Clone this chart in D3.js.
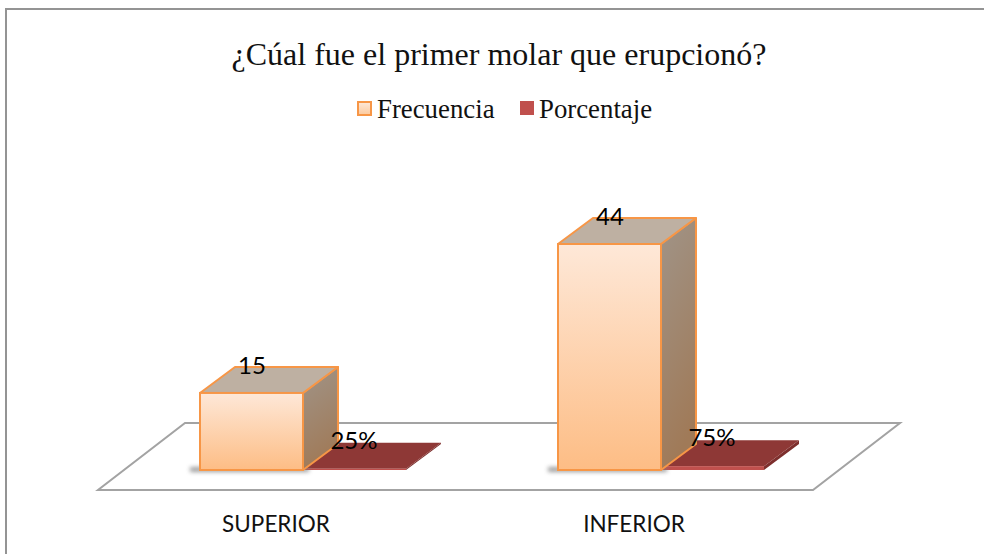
<!DOCTYPE html>
<html><head><meta charset="utf-8">
<script src="https://cdn.jsdelivr.net/npm/d3@7/dist/d3.min.js"></script>
<style>html,body{margin:0;padding:0;background:#fff}svg{display:block}</style>
</head><body><svg id="c" width="984" height="554"></svg>
<script>
const categories = ["SUPERIOR", "INFERIOR"];
const seriesNames = ["Frecuencia", "Porcentaje"];
const frecuencia = [15, 44];
const porcentaje = [0.25, 0.75];
const porcentajeLabels = ["25%", "75%"];
const title = "¿Cúal fue el primer molar que erupcionó?";

const W = 984, H = 554, DX = 35, DY = -26;
const svg = d3.select("#c");
const defs = svg.append("defs");
function grad(id, stops, x2, y2) {
  const g = defs.append("linearGradient").attr("id", id).attr("x1", 0).attr("y1", 0).attr("x2", x2).attr("y2", y2);
  stops.forEach(([o, c]) => g.append("stop").attr("offset", o).attr("stop-color", c));
}
grad("front", [[0, "#fee8d8"], [1, "#fdbd85"]], 0, 1);
grad("side", [[0, "#a09488"], [1, "#a07a58"]], 0.25, 1);
grad("legendF", [[0, "#fde9d9"], [1, "#fcc99c"]], 0, 1);
const blur = defs.append("filter").attr("id", "blur").attr("x", "-20%").attr("width", "140%").attr("y", "-100%").attr("height", "300%");
blur.append("feGaussianBlur").attr("stdDeviation", 2);

const x = d3.scaleBand().domain(categories).range([98, 814]).paddingInner(0).paddingOuter(0);
const y = d3.scaleLinear().domain([0, 44]).range([470, 244]);
const barW = 103;
const barX = (i, s) => x(categories[i]) + 102 + s * barW;

// outer chart border: only the top and left edges show in the picture
svg.append("path").attr("d", `M6 ${H}V9H${W}`).attr("fill", "none").attr("stroke", "#949494").attr("stroke-width", 2);

// floor
const floor = [[98, 490], [813, 490], [900, 423], [185, 423]];
svg.append("path").attr("d", d3.line()(floor) + "Z").attr("fill", "#fff").attr("stroke", "#a3a3a3").attr("stroke-width", 2);

function box(g, x0, val, s) {
  const x1 = x0 + barW, y0 = y(0), yt = y(val);
  const poly = p => d3.line()(p) + "Z";
  if (s === 0) {
    g.append("rect").attr("x", x0 - 10).attr("y", y0 - 3).attr("width", barW + 16).attr("height", 5).attr("fill", "#777").attr("opacity", .7).attr("filter", "url(#blur)");
    g.append("path").attr("d", poly([[x1, yt], [x1 + DX, yt + DY], [x1 + DX, y0 + DY], [x1, y0]])).attr("fill", "url(#side)").attr("stroke", "#f79646").attr("stroke-width", 2).attr("stroke-linejoin", "round");
    g.append("path").attr("d", poly([[x0, yt], [x0 + DX, yt + DY], [x1 + DX, yt + DY], [x1, yt]])).attr("fill", "#beb0a2").attr("stroke", "#f79646").attr("stroke-width", 2).attr("stroke-linejoin", "round");
    g.append("rect").attr("x", x0).attr("y", yt).attr("width", barW).attr("height", y0 - yt).attr("fill", "url(#front)").attr("stroke", "#f79646").attr("stroke-width", 2);
  } else {
    g.append("path").attr("d", poly([[x1, yt], [x1 + DX, yt + DY], [x1 + DX, y0 + DY], [x1, y0]])).attr("fill", "#7d2f2d");
    g.append("path").attr("d", poly([[x0, yt], [x0 + DX, yt + DY], [x1 + DX, yt + DY], [x1, yt]])).attr("fill", "#8e3836");
    g.append("rect").attr("x", x0).attr("y", yt).attr("width", barW).attr("height", y0 - yt).attr("fill", "#c0504d");
  }
}
const marks = svg.append("g");
categories.forEach((c, i) => {
  box(marks, barX(i, 1), porcentaje[i], 1);
  box(marks, barX(i, 0), frecuencia[i], 0);
});

// data labels
const labels = svg.append("g").attr("font-family", "Lato").attr("fill", "#000").attr("font-size", 24).attr("text-anchor", "middle");
categories.forEach((c, i) => {
  labels.append("text").attr("x", barX(i, 0) + 52).attr("y", y(frecuencia[i]) + DY + 7).text(frecuencia[i]);
  labels.append("text").attr("x", barX(i, 1) + 51).attr("y", y(porcentaje[i]) + DY + 6).text(porcentajeLabels[i]);
});
svg.append("g").attr("font-family", "Lato").attr("font-size", 22.5).attr("text-anchor", "middle").attr("fill", "#111")
  .selectAll("text").data(categories).join("text")
  .attr("x", (d, i) => [276, 634][i]).attr("y", 532).text(d => d);

// title
svg.append("text").attr("x", 499).attr("y", 65).attr("text-anchor", "middle").attr("font-family", "'Liberation Serif'").attr("font-size", 32).attr("fill", "#111").text(title);

// legend
const lg = svg.append("g").attr("font-family", "'Liberation Serif'").attr("font-size", 26.8).attr("fill", "#111");
lg.append("rect").attr("x", 358).attr("y", 102).attr("width", 13).attr("height", 13).attr("fill", "url(#legendF)").attr("stroke", "#f79646").attr("stroke-width", 2);
lg.append("text").attr("x", 377).attr("y", 118).text(seriesNames[0]);
lg.append("rect").attr("x", 520).attr("y", 101).attr("width", 14).attr("height", 14).attr("fill", "#c0504d");
lg.append("text").attr("x", 539).attr("y", 118).text(seriesNames[1]);
</script></body></html>
